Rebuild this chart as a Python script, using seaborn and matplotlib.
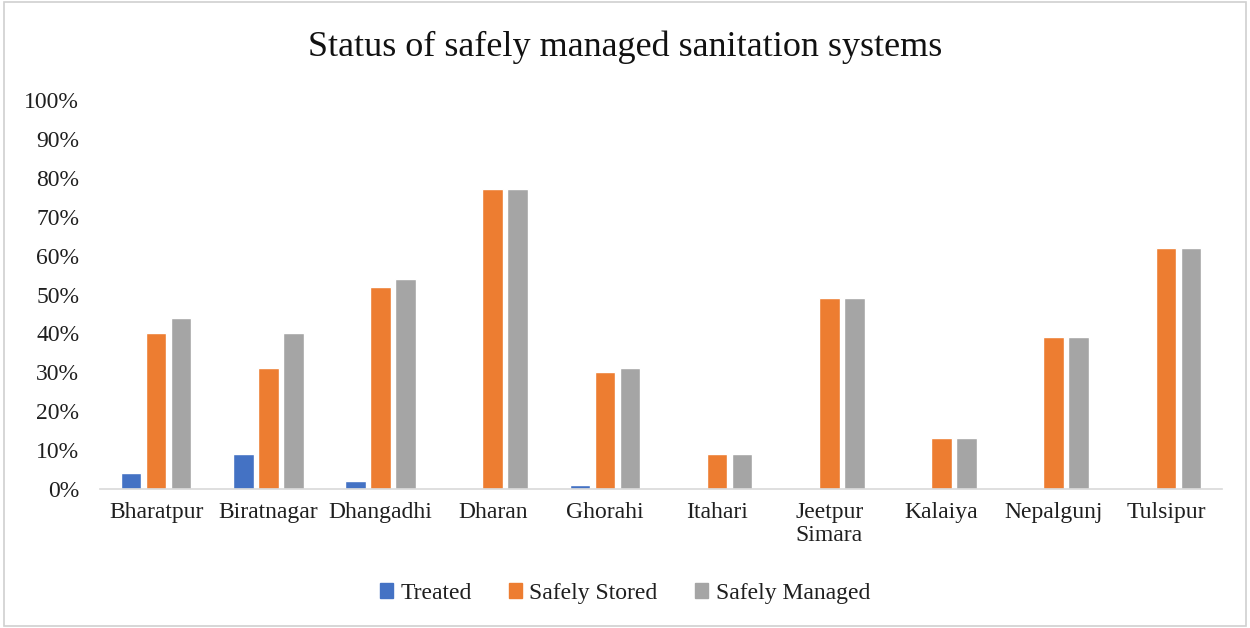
import matplotlib
matplotlib.use("Agg")
import matplotlib.pyplot as plt
import seaborn as sns
import pandas as pd
from matplotlib.patches import Rectangle
from matplotlib.ticker import PercentFormatter

cities = ["Bharatpur", "Biratnagar", "Dhangadhi", "Dharan", "Ghorahi", "Itahari",
          "Jeetpur\nSimara", "Kalaiya", "Nepalgunj", "Tulsipur"]
treated = [4, 9, 2, 0, 1, 0, 0, 0, 0, 0]
safely_stored = [40, 31, 52, 77, 30, 9, 49, 13, 39, 62]
safely_managed = [44, 40, 54, 77, 31, 9, 49, 13, 39, 62]
series = ["Treated", "Safely Stored", "Safely Managed"]
colors = ["#4472C4", "#ED7D31", "#A5A5A5"]

rows = []
for i, c in enumerate(cities):
    for s, vals in zip(series, [treated, safely_stored, safely_managed]):
        rows.append({"City": c, "Series": s, "Value": vals[i] / 100})
df = pd.DataFrame(rows)

sns.set_theme(style="white")
plt.rcParams["font.family"] = ["Liberation Serif", "DejaVu Serif"]

fig = plt.figure(figsize=(12.5, 6.28), dpi=100)
ax = fig.add_axes([0.08, 0.2213, 0.8976, 0.6195])

sns.barplot(data=df, x="City", y="Value", hue="Series", order=cities,
            hue_order=series, palette=colors, width=0.67, gap=0.18,
            saturation=1, ax=ax, legend=True)

ax.set_ylim(0, 1.0)
ax.set_xlim(-0.5, len(cities) - 0.5)
ax.set_yticks([i / 10 for i in range(11)])
ax.yaxis.set_major_formatter(PercentFormatter(1.0, decimals=0))
ax.tick_params(axis="y", labelsize=17, length=0, pad=15, colors="#1f1f1f")
ax.tick_params(axis="x", labelsize=17, length=0, pad=9, colors="#1f1f1f")
for lab in ax.get_xticklabels():
    lab.set_linespacing(1.15)
    lab.set_verticalalignment("top")
ax.set_xlabel("")
ax.set_ylabel("")
for side in ["left", "right", "top"]:
    ax.spines[side].set_visible(False)
ax.spines["bottom"].set_color("#D9D9D9")
ax.spines["bottom"].set_linewidth(1.2)

ax.legend_.remove()
handles = [Rectangle((0, 0), 1, 1, color=c) for c in colors]
fig.legend(handles, series, loc="center", bbox_to_anchor=(0.5, 0.055),
           ncol=3, frameon=False, fontsize=17, handlelength=0.55, handleheight=0.55,
           handletextpad=0.3, columnspacing=1.6, labelcolor="#1f1f1f")

fig.text(0.5, 0.925, "Status of safely managed sanitation systems",
         ha="center", va="center", fontsize=26, color="#111111")

fig.patches.append(Rectangle((0.003, 0.003), 0.994, 0.994, transform=fig.transFigure,
                             fill=False, edgecolor="#D0D0D0", linewidth=1.2))

fig.savefig("out.png", dpi=100)
